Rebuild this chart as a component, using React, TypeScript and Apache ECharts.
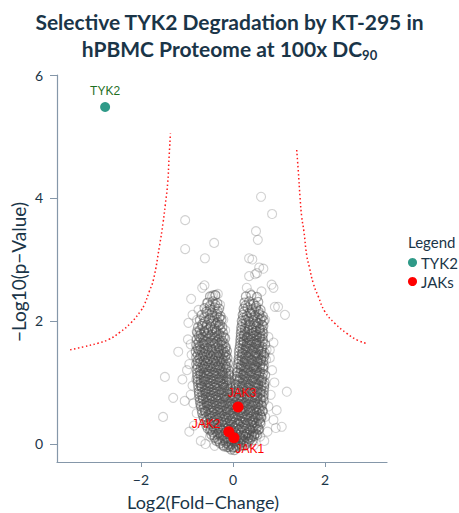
import React, { useEffect, useRef } from "react";
import * as echarts from "echarts";

// ---- tick labels ----
const xTickValues = [-2, 0, 2];
const yTickValues = [0, 2, 4, 6];

// ---- highlighted proteins ----
const tyk2Point = { name: "TYK2", x: -2.78, y: 5.48 };
const jakPoints = [
  { name: "JAK3", x: 0.11, y: 0.6 },
  { name: "JAK2", x: -0.09, y: 0.2 },
  { name: "JAK1", x: 0.02, y: 0.1 },
];

// ---- significance threshold curves ----
const leftThreshold: number[][] = [
  [-3.54, 1.53], [-3.25, 1.58], [-2.93, 1.64], [-2.7, 1.7], [-2.47, 1.81], [-2.22, 1.97],
  [-2.0, 2.17], [-1.93, 2.26], [-1.82, 2.48], [-1.73, 2.67], [-1.6, 3.21], [-1.52, 3.6],
  [-1.47, 3.9], [-1.42, 4.24], [-1.39, 4.65], [-1.36, 5.05],
];
const rightThreshold: number[][] = [
  [1.385, 4.78], [1.42, 4.43], [1.457, 4.02], [1.493, 3.7], [1.543, 3.45], [1.602, 3.07],
  [1.659, 2.88], [1.746, 2.61], [1.854, 2.4], [2.0, 2.15], [2.217, 1.96], [2.472, 1.8],
  [2.702, 1.69], [2.928, 1.63],
];

// ---- proteome: dense core of the volcano (first set) ----
const coreProteinsA: number[][] = [
  [-0.04,-0.09],[0.03,-0.1],[0.08,-0.06],[-0.09,-0.05],[0.0,-0.06],
  [-0.28,0.01],[-0.21,-0.02],[-0.15,0.02],[-0.1,-0.01],[-0.03,0.0],[0.04,0.02],[0.1,-0.01],[0.16,0.01],[0.22,0.03],[0.29,0.0],[0.34,0.04],
  [-0.4,0.1],[-0.33,0.08],[-0.26,0.12],[-0.19,0.09],[-0.12,0.11],[-0.05,0.08],[0.02,0.12],[0.08,0.09],[0.15,0.11],[0.21,0.08],[0.27,0.12],[0.33,0.09],[0.4,0.11],[0.46,0.13],
  [-0.5,0.22],[-0.44,0.19],[-0.37,0.21],[-0.3,0.18],[-0.23,0.22],[-0.16,0.19],[-0.09,0.23],[-0.02,0.2],[0.05,0.18],[0.12,0.22],[0.18,0.19],[0.25,0.21],[0.31,0.18],[0.38,0.22],[0.44,0.2],[0.5,0.17],[0.55,0.23],
  [-0.58,0.3],[-0.51,0.32],[-0.44,0.29],[-0.37,0.31],[-0.3,0.28],[-0.23,0.32],[-0.16,0.3],[-0.09,0.28],[-0.02,0.31],[0.05,0.29],[0.12,0.32],[0.19,0.28],[0.26,0.31],[0.33,0.29],[0.4,0.32],[0.47,0.3],[0.54,0.28],[0.6,0.33],
  [-0.63,0.41],[-0.56,0.39],[-0.49,0.42],[-0.42,0.38],[-0.35,0.4],[-0.28,0.43],[-0.21,0.39],[-0.14,0.41],[-0.07,0.38],[0.0,0.42],[0.07,0.4],[0.14,0.38],[0.21,0.42],[0.28,0.39],[0.35,0.41],[0.42,0.38],[0.49,0.42],[0.56,0.4],[0.62,0.43],
  [-0.67,0.5],[-0.6,0.52],[-0.53,0.49],[-0.46,0.51],[-0.39,0.48],[-0.32,0.52],[-0.25,0.5],[-0.18,0.48],[-0.11,0.52],[-0.04,0.49],[0.03,0.51],[0.1,0.48],[0.17,0.52],[0.24,0.5],[0.31,0.48],[0.38,0.52],[0.45,0.49],[0.52,0.51],[0.59,0.48],[0.65,0.53],
  [-0.7,0.61],[-0.63,0.59],[-0.56,0.62],[-0.49,0.6],[-0.42,0.58],[-0.35,0.62],[-0.28,0.59],[-0.21,0.61],[-0.14,0.58],[-0.07,0.62],[0.0,0.6],[0.07,0.58],[0.14,0.62],[0.21,0.59],[0.28,0.61],[0.35,0.58],[0.42,0.62],[0.49,0.6],[0.56,0.58],[0.63,0.62],
  [-0.72,0.7],[-0.65,0.72],[-0.58,0.69],[-0.51,0.71],[-0.44,0.68],[-0.37,0.72],[-0.3,0.7],[-0.23,0.68],[-0.16,0.72],[-0.09,0.69],[-0.02,0.71],[0.05,0.68],[0.12,0.72],[0.19,0.7],[0.26,0.68],[0.33,0.72],[0.4,0.69],[0.47,0.71],[0.54,0.68],[0.61,0.72],[0.67,0.7],
  [-0.74,0.81],[-0.67,0.79],[-0.6,0.82],[-0.53,0.8],[-0.46,0.78],[-0.39,0.82],[-0.32,0.79],[-0.25,0.81],[-0.18,0.78],[-0.11,0.82],[-0.04,0.8],[0.04,0.78],[0.11,0.82],[0.18,0.79],[0.25,0.81],[0.32,0.78],[0.39,0.82],[0.46,0.8],[0.53,0.78],[0.6,0.82],[0.67,0.8],
  [-0.75,0.9],[-0.68,0.92],[-0.61,0.89],[-0.54,0.91],[-0.47,0.88],[-0.4,0.92],[-0.33,0.9],[-0.26,0.88],[-0.19,0.92],[-0.12,0.89],[-0.05,0.91],[0.05,0.9],[0.12,0.88],[0.19,0.92],[0.26,0.89],[0.33,0.91],[0.4,0.88],[0.47,0.92],[0.54,0.9],[0.61,0.88],[0.68,0.92],
  [-0.77,1.01],[-0.7,0.99],[-0.63,1.02],[-0.56,1.0],[-0.49,0.98],[-0.42,1.02],[-0.35,0.99],[-0.28,1.01],[-0.21,0.98],[-0.14,1.02],[-0.07,1.0],[0.06,0.98],[0.13,1.02],[0.2,0.99],[0.27,1.01],[0.34,0.98],[0.41,1.02],[0.48,1.0],[0.55,0.98],[0.62,1.02],[0.69,1.0],
  [-0.78,1.1],[-0.71,1.12],[-0.64,1.09],[-0.57,1.11],[-0.5,1.08],[-0.43,1.12],[-0.36,1.1],[-0.29,1.08],[-0.22,1.12],[-0.15,1.09],[-0.08,1.11],[0.08,1.1],[0.15,1.08],[0.22,1.12],[0.29,1.09],[0.36,1.11],[0.43,1.08],[0.5,1.12],[0.57,1.1],[0.64,1.08],[0.7,1.12],
  [-0.79,1.21],[-0.72,1.19],[-0.65,1.22],[-0.58,1.2],[-0.51,1.18],[-0.44,1.22],[-0.37,1.19],[-0.3,1.21],[-0.23,1.18],[-0.16,1.22],[-0.1,1.2],[0.1,1.18],[0.17,1.22],[0.24,1.19],[0.31,1.21],[0.38,1.18],[0.45,1.22],[0.52,1.2],[0.59,1.18],[0.66,1.22],
  [-0.8,1.3],[-0.73,1.32],[-0.66,1.29],[-0.59,1.31],[-0.52,1.28],[-0.45,1.32],[-0.38,1.3],[-0.31,1.28],[-0.24,1.32],[-0.17,1.29],[-0.11,1.31],[0.11,1.3],[0.18,1.28],[0.25,1.32],[0.32,1.29],[0.39,1.31],[0.46,1.28],[0.53,1.32],[0.6,1.3],[0.67,1.28],
  [-0.8,1.41],[-0.73,1.39],[-0.66,1.42],[-0.59,1.4],[-0.52,1.38],[-0.45,1.42],[-0.38,1.39],[-0.31,1.41],[-0.24,1.38],[-0.17,1.42],[-0.12,1.4],[0.12,1.38],[0.19,1.42],[0.26,1.39],[0.33,1.41],[0.4,1.38],[0.47,1.42],[0.54,1.4],[0.61,1.38],[0.68,1.42],
  [-0.81,1.5],[-0.74,1.52],[-0.67,1.49],[-0.6,1.51],[-0.53,1.48],[-0.46,1.52],[-0.39,1.5],[-0.32,1.48],[-0.25,1.52],[-0.18,1.49],[-0.13,1.51],[0.13,1.5],[0.2,1.48],[0.27,1.52],[0.34,1.49],[0.41,1.51],[0.48,1.48],[0.55,1.52],[0.62,1.5],[0.69,1.48],
  [-0.8,1.61],[-0.72,1.59],[-0.64,1.62],[-0.56,1.6],[-0.48,1.58],[-0.4,1.62],[-0.32,1.59],[-0.24,1.61],[-0.16,1.58],[0.15,1.6],[0.22,1.62],[0.29,1.59],[0.36,1.61],[0.43,1.58],[0.5,1.62],[0.57,1.6],[0.64,1.58],[0.7,1.62],
  [-0.79,1.7],[-0.71,1.72],[-0.63,1.69],[-0.55,1.71],[-0.47,1.68],[-0.39,1.72],[-0.31,1.7],[-0.24,1.68],[-0.17,1.72],[0.16,1.7],[0.23,1.68],[0.3,1.72],[0.37,1.69],[0.44,1.71],[0.51,1.68],[0.58,1.72],[0.65,1.7],
  [-0.78,1.81],[-0.7,1.79],[-0.62,1.82],[-0.54,1.8],[-0.46,1.78],[-0.38,1.82],[-0.3,1.79],[-0.22,1.81],[0.17,1.8],[0.24,1.78],[0.31,1.82],[0.38,1.79],[0.45,1.81],[0.52,1.78],[0.59,1.82],[0.66,1.8],
  [-0.76,1.9],[-0.67,1.92],[-0.58,1.89],[-0.49,1.91],[-0.4,1.88],[-0.31,1.92],[-0.23,1.9],[0.18,1.9],[0.26,1.88],[0.34,1.92],[0.42,1.89],[0.5,1.91],[0.58,1.88],[0.66,1.92],
  [-0.72,2.01],[-0.62,1.99],[-0.52,2.02],[-0.42,2.0],[-0.33,1.98],[-0.25,2.02],[0.19,2.0],[0.27,2.02],[0.35,1.99],[0.43,2.01],[0.51,1.98],[0.59,2.02],[0.67,2.0],
  [-0.68,2.1],[-0.56,2.12],[-0.45,2.09],[-0.35,2.11],[-0.27,2.08],[0.21,2.1],[0.3,2.08],[0.39,2.12],[0.48,2.09],[0.57,2.11],[0.65,2.08],
  [-0.62,2.21],[-0.5,2.19],[-0.4,2.22],[-0.3,2.2],[0.23,2.2],[0.32,2.22],[0.41,2.19],[0.5,2.21],[0.6,2.18],
  [-0.55,2.3],[-0.44,2.32],[-0.34,2.29],[0.25,2.3],[0.35,2.32],[0.45,2.28],[0.55,2.31],
  [-0.5,2.4],[-0.38,2.42],[0.28,2.4],[0.4,2.42],[0.52,2.39],
];

// ---- proteome: dense core of the volcano (second set) ----
const coreProteinsB: number[][] = [
  [-0.2,-0.04],[-0.13,-0.05],[-0.06,-0.03],[0.01,-0.05],[0.07,-0.03],[0.13,-0.04],[0.19,-0.02],[0.25,-0.03],
  [-0.36,0.05],[-0.3,0.04],[-0.23,0.06],[-0.16,0.05],[-0.09,0.04],[-0.02,0.06],[0.05,0.05],[0.12,0.04],[0.18,0.06],[0.24,0.05],[0.31,0.04],[0.37,0.07],[0.43,0.06],
  [-0.47,0.15],[-0.41,0.14],[-0.34,0.16],[-0.27,0.15],[-0.2,0.14],[-0.13,0.16],[-0.06,0.15],[0.01,0.14],[0.08,0.16],[0.15,0.15],[0.22,0.14],[0.28,0.16],[0.35,0.15],[0.41,0.14],[0.47,0.16],[0.53,0.15],
  [-0.55,0.25],[-0.48,0.24],[-0.41,0.26],[-0.34,0.25],[-0.27,0.24],[-0.2,0.26],[-0.13,0.25],[-0.06,0.24],[0.01,0.26],[0.08,0.25],[0.15,0.24],[0.22,0.26],[0.29,0.25],[0.36,0.24],[0.43,0.26],[0.5,0.25],[0.57,0.24],
  [-0.6,0.35],[-0.53,0.34],[-0.46,0.36],[-0.39,0.35],[-0.32,0.34],[-0.25,0.36],[-0.18,0.35],[-0.11,0.34],[-0.04,0.36],[0.03,0.35],[0.1,0.34],[0.17,0.36],[0.24,0.35],[0.31,0.34],[0.38,0.36],[0.45,0.35],[0.52,0.34],[0.59,0.36],
  [-0.65,0.45],[-0.58,0.44],[-0.51,0.46],[-0.44,0.45],[-0.37,0.44],[-0.3,0.46],[-0.23,0.45],[-0.16,0.44],[-0.09,0.46],[-0.02,0.45],[0.05,0.44],[0.12,0.46],[0.19,0.45],[0.26,0.44],[0.33,0.46],[0.4,0.45],[0.47,0.44],[0.54,0.46],[0.61,0.45],
  [-0.68,0.55],[-0.61,0.54],[-0.54,0.56],[-0.47,0.55],[-0.4,0.54],[-0.33,0.56],[-0.26,0.55],[-0.19,0.54],[-0.12,0.56],[-0.05,0.55],[0.02,0.54],[0.09,0.56],[0.16,0.55],[0.23,0.54],[0.3,0.56],[0.37,0.55],[0.44,0.54],[0.51,0.56],[0.58,0.55],[0.64,0.54],
  [-0.71,0.65],[-0.64,0.64],[-0.57,0.66],[-0.5,0.65],[-0.43,0.64],[-0.36,0.66],[-0.29,0.65],[-0.22,0.64],[-0.15,0.66],[-0.08,0.65],[-0.01,0.64],[0.06,0.66],[0.13,0.65],[0.2,0.64],[0.27,0.66],[0.34,0.65],[0.41,0.64],[0.48,0.66],[0.55,0.65],[0.62,0.64],
  [-0.73,0.75],[-0.66,0.74],[-0.59,0.76],[-0.52,0.75],[-0.45,0.74],[-0.38,0.76],[-0.31,0.75],[-0.24,0.74],[-0.17,0.76],[-0.1,0.75],[-0.03,0.74],[0.04,0.76],[0.11,0.75],[0.18,0.74],[0.25,0.76],[0.32,0.75],[0.39,0.74],[0.46,0.76],[0.53,0.75],[0.6,0.74],[0.66,0.76],
  [-0.74,0.85],[-0.67,0.84],[-0.6,0.86],[-0.53,0.85],[-0.46,0.84],[-0.39,0.86],[-0.32,0.85],[-0.25,0.84],[-0.18,0.86],[-0.11,0.85],[-0.04,0.84],[0.04,0.86],[0.11,0.85],[0.18,0.84],[0.25,0.86],[0.32,0.85],[0.39,0.84],[0.46,0.86],[0.53,0.85],[0.6,0.84],[0.67,0.86],
  [-0.76,0.95],[-0.69,0.94],[-0.62,0.96],[-0.55,0.95],[-0.48,0.94],[-0.41,0.96],[-0.34,0.95],[-0.27,0.94],[-0.2,0.96],[-0.13,0.95],[-0.06,0.94],[0.06,0.96],[0.13,0.95],[0.2,0.94],[0.27,0.96],[0.34,0.95],[0.41,0.94],[0.48,0.96],[0.55,0.95],[0.62,0.94],[0.68,0.96],
  [-0.77,1.05],[-0.7,1.04],[-0.63,1.06],[-0.56,1.05],[-0.49,1.04],[-0.42,1.06],[-0.35,1.05],[-0.28,1.04],[-0.21,1.06],[-0.14,1.05],[-0.08,1.04],[0.07,1.06],[0.14,1.05],[0.21,1.04],[0.28,1.06],[0.35,1.05],[0.42,1.04],[0.49,1.06],[0.56,1.05],[0.63,1.04],
  [-0.78,1.15],[-0.71,1.14],[-0.64,1.16],[-0.57,1.15],[-0.5,1.14],[-0.43,1.16],[-0.36,1.15],[-0.29,1.14],[-0.22,1.16],[-0.15,1.15],[-0.09,1.14],[0.09,1.16],[0.16,1.15],[0.23,1.14],[0.3,1.16],[0.37,1.15],[0.44,1.14],[0.51,1.16],[0.58,1.15],[0.65,1.14],
  [-0.77,1.25],[-0.7,1.24],[-0.63,1.26],[-0.56,1.25],[-0.49,1.24],[-0.42,1.26],[-0.35,1.25],[-0.28,1.24],[-0.21,1.26],[-0.14,1.25],[0.1,1.24],[0.17,1.26],[0.24,1.25],[0.31,1.24],[0.38,1.26],[0.45,1.25],[0.52,1.24],[0.59,1.26],[0.65,1.25],
  [-0.77,1.35],[-0.7,1.34],[-0.63,1.36],[-0.56,1.35],[-0.49,1.34],[-0.42,1.36],[-0.35,1.35],[-0.28,1.34],[-0.21,1.36],[-0.15,1.35],[0.12,1.34],[0.19,1.36],[0.26,1.35],[0.33,1.34],[0.4,1.36],[0.47,1.35],[0.54,1.34],[0.61,1.36],[0.66,1.35],
  [-0.77,1.45],[-0.7,1.44],[-0.63,1.46],[-0.56,1.45],[-0.49,1.44],[-0.42,1.46],[-0.35,1.45],[-0.28,1.44],[-0.21,1.46],[-0.15,1.45],[0.13,1.44],[0.2,1.46],[0.27,1.45],[0.34,1.44],[0.41,1.46],[0.48,1.45],[0.55,1.44],[0.62,1.46],[0.67,1.45],
  [-0.77,1.55],[-0.7,1.54],[-0.62,1.56],[-0.54,1.55],[-0.46,1.54],[-0.38,1.56],[-0.3,1.55],[-0.22,1.54],[-0.16,1.56],[0.14,1.55],[0.21,1.54],[0.28,1.56],[0.35,1.55],[0.42,1.54],[0.49,1.56],[0.56,1.55],[0.63,1.54],
  [-0.75,1.65],[-0.67,1.64],[-0.59,1.66],[-0.51,1.65],[-0.43,1.64],[-0.35,1.66],[-0.27,1.65],[-0.2,1.64],[0.16,1.65],[0.23,1.66],[0.3,1.64],[0.37,1.65],[0.44,1.66],[0.51,1.64],[0.58,1.65],[0.65,1.66],
  [-0.74,1.75],[-0.66,1.74],[-0.58,1.76],[-0.5,1.75],[-0.42,1.74],[-0.34,1.76],[-0.26,1.75],[-0.2,1.74],[0.17,1.75],[0.24,1.76],[0.31,1.74],[0.38,1.75],[0.45,1.76],[0.52,1.74],[0.59,1.75],[0.64,1.76],
  [-0.72,1.85],[-0.63,1.84],[-0.54,1.86],[-0.45,1.85],[-0.36,1.84],[-0.27,1.86],[0.18,1.85],[0.26,1.84],[0.34,1.86],[0.42,1.85],[0.5,1.84],[0.58,1.86],[0.64,1.85],
  [-0.67,1.95],[-0.57,1.94],[-0.47,1.96],[-0.37,1.95],[-0.28,1.94],[0.2,1.95],[0.28,1.96],[0.37,1.94],[0.46,1.95],[0.55,1.96],[0.63,1.94],
  [-0.63,2.05],[-0.5,2.04],[-0.4,2.06],[-0.3,2.05],[0.22,2.05],[0.33,2.04],[0.44,2.06],[0.54,2.05],[0.62,2.04],
  [-0.58,2.15],[-0.46,2.14],[-0.33,2.16],[0.24,2.15],[0.36,2.14],[0.46,2.16],[0.56,2.15],
  [-0.5,2.25],[-0.38,2.26],[0.27,2.25],[0.38,2.26],[0.5,2.24],
];

// ---- proteome: scattered proteins around the core ----
const scatterProteins: number[][] = [
  [-1.04,3.64],[-1.04,3.17],[-0.41,3.27],[-0.61,3.02],
  [0.61,4.02],[0.85,3.74],[0.5,3.46],[0.54,3.32],[0.35,3.02],[0.42,3.0],[0.57,2.87],[0.66,2.85],[0.35,2.73],[0.48,2.76],[0.52,2.78],
  [-0.67,2.54],[-0.62,2.58],[-0.91,2.36],[-0.43,2.42],[-0.33,2.44],[-0.39,2.42],[-0.75,2.18],[-0.57,2.29],[-0.46,2.4],[-0.5,2.23],[-0.28,2.26],[-0.35,2.07],[-0.21,2.02],[-0.17,1.85],
  [-0.97,1.97],[-0.78,2.02],[-0.79,1.83],[-0.76,1.78],[-1.19,1.5],[-0.78,1.58],
  [0.3,2.54],[0.37,2.45],[0.62,2.48],[0.84,2.59],[0.88,2.54],[0.91,2.23],[0.98,2.23],[1.13,2.1],[0.7,2.02],[0.77,1.74],[0.73,1.53],[0.8,1.53],[0.72,1.37],
  [-1.48,1.09],[-1.1,1.05],[-0.8,1.05],[-1.52,0.44],[-0.5,0.12],[1.17,0.85],[1.06,0.28],[0.93,0.26],[-0.86,0.66],[-0.79,0.5],[0.77,0.61],[0.7,0.44],[0.88,0.39],[0.59,0.12],
  [-0.95,1.3],[-1.0,1.2],[-0.9,1.45],[-0.88,0.95],[-0.92,0.8],[-1.05,0.7],[-0.85,0.3],[-0.95,0.2],[-0.7,0.05],[-0.6,0.0],[-0.98,1.7],[-0.92,1.62],[-0.88,2.1],[-1.3,0.75],
  [0.85,1.2],[0.9,1.0],[0.82,0.8],[0.95,0.55],[0.8,1.4],[0.88,1.65],[0.75,0.2],[0.68,0.05],[0.45,-0.02],[-0.4,-0.03],
];

const NAVY = "#1a3548";
const AXIS = "#8597a9";

export default function App() {
  const ref = useRef<HTMLDivElement>(null);
  useEffect(() => {
    document.body.style.margin = "0";
    const chart = echarts.init(ref.current!, null, { renderer: "svg" });
    const minus = (v: number) => String(v).replace("-", "\u2212");
    const labelBase = { fontFamily: "Liberation Sans", fontSize: 12, fontWeight: "normal", textBorderWidth: 0, opacity: 1 };
    const coreStyle = { color: "rgba(0,0,0,0)", borderColor: "rgba(75,75,75,0.58)", borderWidth: 1.2 };
    chart.setOption({
      animation: false,
      backgroundColor: "#ffffff",
      title: {
        text: "{t|Selective TYK2 Degradation by KT-295 in}\n{t|hPBMC Proteome at 100x DC}{sub|90}",
        left: "center",
        top: 3,
        textStyle: {
          rich: {
            t: { fontFamily: "Lato", fontWeight: "bold", fontSize: 21, color: NAVY, lineHeight: 27 },
            sub: { fontFamily: "Lato", fontWeight: "bold", fontSize: 13, color: NAVY, lineHeight: 27, padding: [12, 0, 0, 0] },
          },
        },
      },
      grid: { left: 57, right: 72, top: 75, bottom: 51, containLabel: false },
      xAxis: {
        type: "value",
        min: -3.826,
        max: 3.348,
        splitLine: { show: false },
        axisLine: { onZero: false, lineStyle: { color: AXIS, width: 1.2 } },
        axisTick: { show: true, length: 5, customValues: xTickValues, lineStyle: { color: AXIS } },
        axisLabel: { customValues: xTickValues, formatter: minus, color: NAVY, fontFamily: "Lato", fontSize: 14, margin: 10 },
      },
      yAxis: {
        type: "value",
        min: -0.293,
        max: 6,
        splitLine: { show: false },
        axisLine: { show: true, onZero: false, lineStyle: { color: AXIS, width: 1.2 } },
        axisTick: { show: true, length: 7, customValues: yTickValues, lineStyle: { color: AXIS } },
        axisLabel: { customValues: yTickValues, formatter: minus, color: NAVY, fontFamily: "Lato", fontSize: 14, margin: 14 },
      },
      legend: {
        data: ["TYK2", "JAKs"],
        orient: "vertical",
        left: 408,
        top: 255,
        padding: 0,
        itemWidth: 9,
        itemHeight: 9,
        itemGap: 4,
        icon: "circle",
        textStyle: { fontFamily: "Lato", fontSize: 15, color: NAVY, padding: [0, 0, 0, -1] },
      },
      graphic: [
        { type: "text", left: 408, top: 234, style: { text: "Legend", fontFamily: "Lato", fontSize: 15, fill: NAVY } },
        { type: "text", x: 18, y: 272, rotation: Math.PI / 2, style: { text: "\u2212Log10(p\u2212Value)", fontFamily: "Lato", fontSize: 19, fill: NAVY, align: "center", verticalAlign: "middle" } },
        { type: "text", x: 203, y: 502, style: { text: "Log2(Fold\u2212Change)", fontFamily: "Lato", fontSize: 18, fill: NAVY, align: "center", verticalAlign: "middle" } },
      ],
      series: [
        {
          type: "scatter",
          name: "scatter",
          data: scatterProteins,
          symbol: "circle",
          symbolSize: 9,
          silent: true,
          itemStyle: { color: "rgba(0,0,0,0)", borderColor: "rgba(70,70,70,0.32)", borderWidth: 1.1 },
          z: 1,
        },
        {
          type: "scatter",
          name: "coreA",
          data: coreProteinsA,
          symbol: "circle",
          symbolSize: 9,
          silent: true,
          itemStyle: coreStyle,
          z: 2,
        },
        {
          type: "scatter",
          name: "coreB",
          data: coreProteinsB,
          symbol: "circle",
          symbolSize: 9,
          silent: true,
          itemStyle: coreStyle,
          z: 2,
        },
        {
          type: "line",
          name: "thrLeft",
          data: leftThreshold,
          showSymbol: false,
          smooth: true,
          silent: true,
          lineStyle: { color: "#ff1a1a", width: 1.5, type: [1.5, 2.5] },
          z: 3,
        },
        {
          type: "line",
          name: "thrRight",
          data: rightThreshold,
          showSymbol: false,
          smooth: true,
          silent: true,
          lineStyle: { color: "#ff1a1a", width: 1.5, type: [1.5, 2.5] },
          z: 3,
        },
        {
          type: "scatter",
          name: "TYK2",
          symbolSize: 10,
          itemStyle: { color: "#2f9a88", opacity: 1 },
          data: [
            {
              value: [tyk2Point.x, tyk2Point.y],
              name: tyk2Point.name,
              label: { ...labelBase, show: true, formatter: tyk2Point.name, position: "top", distance: 5, color: "#1f6f1f" },
            },
          ],
          z: 5,
        },
        {
          type: "scatter",
          name: "JAKs",
          symbolSize: 11,
          itemStyle: { color: "#ff0000", opacity: 1 },
          data: [
            {
              value: [jakPoints[0].x, jakPoints[0].y],
              name: jakPoints[0].name,
              label: { ...labelBase, show: true, formatter: jakPoints[0].name, position: "top", distance: 3, offset: [4, 0], color: "#ff0000" },
            },
            {
              value: [jakPoints[1].x, jakPoints[1].y],
              name: jakPoints[1].name,
              label: { ...labelBase, show: true, formatter: jakPoints[1].name, position: "left", distance: 3, offset: [0, -8], color: "#ff0000" },
            },
            {
              value: [jakPoints[2].x, jakPoints[2].y],
              name: jakPoints[2].name,
              label: { ...labelBase, show: true, formatter: jakPoints[2].name, position: "bottom", distance: 0, offset: [16, 0], color: "#ff0000" },
            },
          ],
          z: 6,
        },
      ],
    });
    return () => chart.dispose();
  }, []);
  return <div ref={ref} style={{ width: 459, height: 513 }} />;
}
